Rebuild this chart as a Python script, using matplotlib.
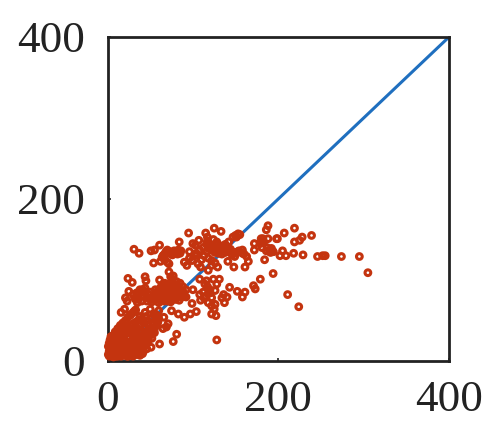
import matplotlib
matplotlib.use("Agg")
import matplotlib.pyplot as plt

# values, row by row
x_right = [188, 186, 219, 207, 199, 239, 228, 225, 219, 180, 188, 183, 180, 181, 187, 192, 190, 194, 205, 202,
           209, 218, 229, 246, 252, 255, 274, 295, 305, 184, 194, 179, 211, 224, 198, 172, 182, 179, 190, 194, 172, 192, 186, 191]
y_right = [167, 162, 164, 158, 151, 155, 153, 149, 147, 151, 151, 147, 147, 140, 140, 137, 135, 135, 136, 130,
           130, 133, 131, 129, 130, 130, 129, 129, 109, 125, 108, 101, 82, 67, 151, 145, 151, 145, 137, 135, 137, 139, 136, 134]

x_upper = [31, 37, 51, 55, 61, 54, 84, 95, 125, 133, 115, 117, 100, 65, 68, 70, 73, 75, 78, 80, 83, 85, 67, 70, 64, 62, 72, 90, 93, 96,
           104, 108, 112, 116, 120, 124, 128, 132, 136, 140, 144, 148, 153, 158, 160, 163, 165, 161, 148, 129, 141, 149,
           151, 155, 147, 150, 153, 113, 118, 122, 126, 130, 110, 106, 109, 103, 117, 124, 128, 134, 138, 142, 118, 122, 126, 103, 107, 96, 99,
           66, 69, 72, 76, 79, 82, 86, 118, 122, 126, 130, 134, 138, 142, 146, 150, 154, 158, 116, 121, 127, 132, 137]
y_upper = [138, 133, 136, 137, 143, 121, 147, 158, 164, 160, 158, 153, 145, 130, 134, 137, 135, 132, 136, 134, 137, 133, 125, 122, 128, 123, 120, 122, 118, 127,
           133, 137, 140, 135, 142, 138, 145, 135, 140, 136, 138, 134, 135, 137, 132, 129, 123, 116, 116, 116, 123, 129,
           153, 156, 153, 155, 157, 130, 127, 124, 135, 133, 125, 120, 116, 130, 148, 150, 147, 142, 144, 147, 112, 118, 121, 143, 149, 135, 124,
           131, 135, 133, 131, 135, 132, 136, 139, 137, 134, 138, 132, 134, 137, 131, 134, 136, 133, 144, 141, 143, 139, 141]

x_mid = [32, 34, 36, 38, 40, 42, 44, 46, 48, 50, 52, 54, 56, 58, 60, 62, 64, 66, 68, 70, 72, 74, 76, 78, 80, 82, 84, 86, 88, 90,
         92, 35, 39, 43, 47, 51, 55, 59, 63, 67, 71, 75, 79, 83, 87, 61, 65, 69, 73, 77, 81, 85, 72, 74, 76, 44, 45, 24, 29, 25, 21, 23,
         100, 92, 99, 104, 97, 90, 83, 75, 71, 69, 65, 81, 77, 61, 16, 20, 27, 32, 38, 44, 50, 56, 60, 66,
         58, 62, 66, 70, 74, 78, 82, 86, 60, 64, 68, 72, 76, 80, 84, 88, 63, 67, 71, 75, 79, 83, 66, 74, 30, 33, 37, 41]
y_mid = [78, 84, 76, 88, 74, 80, 90, 74, 82, 85, 73, 78, 88, 80, 72, 75, 84, 92, 79, 74, 88, 82, 76, 95, 80, 90, 75, 85, 92, 80,
         88, 72, 80, 86, 78, 76, 82, 86, 78, 88, 95, 80, 92, 85, 79, 100, 95, 90, 85, 105, 98, 96, 110, 104, 100, 104, 99, 102, 97, 86, 78, 74,
         88, 79, 71, 61, 58, 54, 58, 62, 46, 42, 40, 33, 24, 21, 60, 64, 57, 62, 55, 60, 64, 58, 62, 54,
         76, 80, 83, 77, 81, 85, 79, 83, 88, 86, 82, 90, 86, 76, 82, 87, 92, 96, 93, 91, 88, 86, 74, 73, 82, 76, 84, 88]

x_center = [108, 116, 124, 108, 115, 122, 120, 117, 114, 112, 118, 122, 126, 122, 134, 140, 137, 127, 128, 143, 152, 161, 158, 171, 173,
            109, 113, 120, 128, 131, 136, 126, 125]
y_center = [101, 99, 101, 82, 80, 78, 88, 92, 95, 85, 72, 68, 70, 58, 78, 79, 72, 56, 26, 91, 86, 85, 79, 93, 89,
            75, 78, 84, 95, 101, 82, 87, 64]

x_low = [1, 1, 2, 2, 2, 3, 3, 3, 4, 4, 4, 5, 5, 5, 6, 6, 6, 7, 7, 7, 8, 8, 8, 9, 9, 9, 10, 10, 10, 11, 11, 12, 12, 12, 13, 13, 14, 14, 14, 15,
         15, 16, 16, 17, 17, 18, 18, 18, 19, 20, 20, 21, 21, 22, 22, 23, 23, 24, 24, 25, 25, 26, 26, 27, 27, 28, 28, 29, 30, 30, 31, 31, 32, 32, 33, 33, 34, 35, 35, 36,
         36, 37, 38, 38, 39, 40, 40, 41, 42, 42, 43, 44, 45, 45, 46, 47, 48, 49, 50, 51, 52, 53, 54, 55, 56, 57, 58, 59, 60,
         6, 9, 12, 15, 18, 21, 24, 27, 30, 33, 12, 16, 20, 24, 28, 32, 36, 40, 44, 48,
         18, 22, 26, 30, 34, 38, 20, 25, 30, 35, 40, 44, 24, 29, 34, 39, 44, 48, 52, 46, 50, 55,
         30, 34, 38, 41, 27, 33, 37, 42, 46, 40, 45, 51]
y_low = [8, 18, 6, 22, 12, 7, 16, 26, 9, 20, 30, 6, 14, 24, 8, 18, 28, 5, 12, 22, 7, 16, 32, 10, 20, 27, 6, 14, 34, 11, 24, 6, 18, 36, 9, 28, 7, 14, 31, 10,
       22, 6, 38, 15, 26, 8, 20, 41, 30, 7, 17, 13, 34, 9, 24, 6, 42, 16, 29, 8, 36, 12, 22, 44, 7, 18, 33, 10, 26, 46, 14, 37, 8, 24, 31, 48, 17, 11, 40, 28,
       50, 20, 13, 35, 45, 24, 52, 18, 32, 48, 42, 26, 36, 55, 30, 50, 44, 38, 34, 52, 28, 46, 58, 40, 50, 44, 56, 48, 52,
       31, 36, 40, 44, 47, 50, 54, 57, 60, 63, 12, 9, 11, 6, 13, 11, 8, 15, 19, 26,
       14, 16, 19, 21, 18, 20, 26, 28, 31, 27, 31, 22, 36, 33, 38, 36, 40, 30, 33, 24, 40, 35,
       6, 9, 7, 9, 11, 13, 12, 12, 15, 17, 20, 17]

x_all = x_right + x_upper + x_mid + x_center + x_low
y_all = y_right + y_upper + y_mid + y_center + y_low

diag = [0, 400]
ticks = [0, 200, 400]

fig = plt.figure(figsize=(5, 4.34), dpi=100)
ax = fig.add_axes([107.5 / 500, 1 - 361 / 434, 341.5 / 500, 324 / 434])

ax.plot(diag, diag, color="#1f6fbf", lw=2.2, zorder=2)
ax.scatter(x_all, y_all, s=17, facecolors="none", edgecolors="#c4340f", linewidths=2.2, zorder=3, clip_on=False)

ax.set_xlim(0, 400)
ax.set_ylim(0, 400)
ax.set_xticks(ticks)
ax.set_yticks(ticks)
ax.tick_params(direction="in", length=2.5, width=1.2, color="#222222", labelsize=32.5,
               labelcolor="#222222")
ax.tick_params(axis="x", pad=14)
ax.tick_params(axis="y", pad=16)
for lab in ax.get_xticklabels() + ax.get_yticklabels():
    lab.set_family("Liberation Serif")
for s in ax.spines.values():
    s.set_linewidth(2)
    s.set_color("#222222")

fig.savefig("out.png", dpi=100)
